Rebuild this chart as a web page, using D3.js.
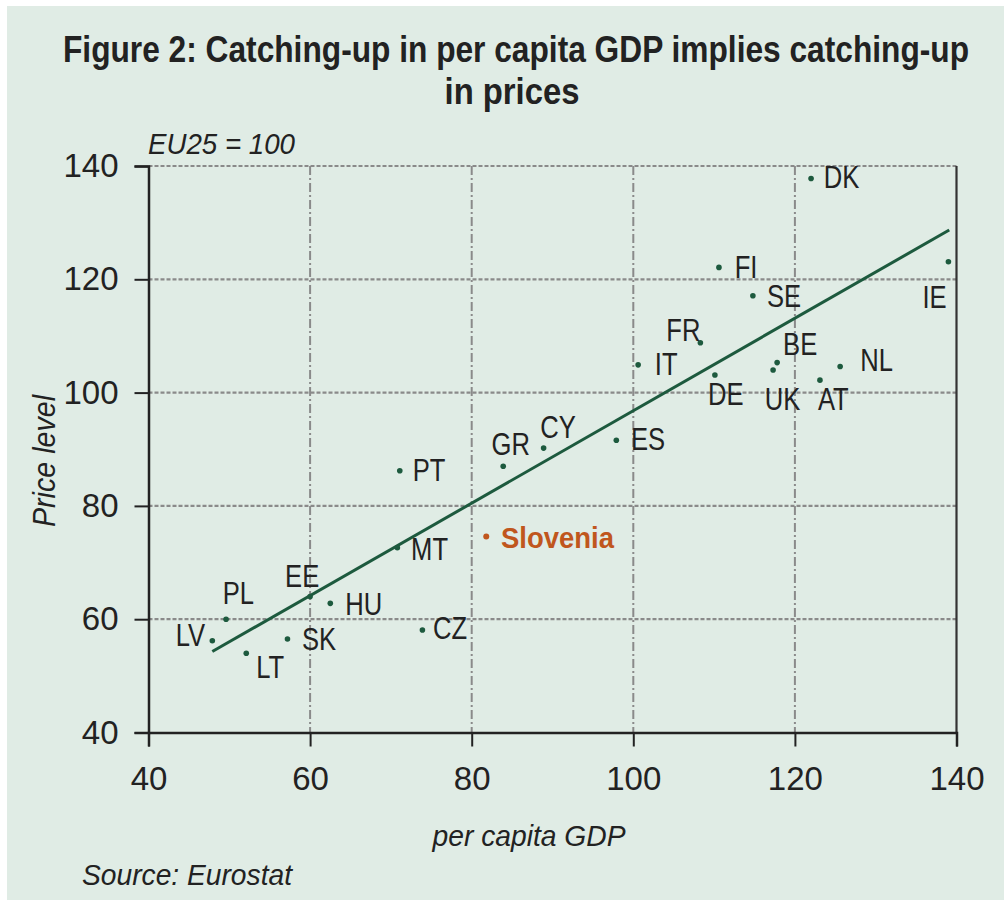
<!DOCTYPE html>
<html>
<head>
<meta charset="utf-8">
<script src="https://cdn.jsdelivr.net/npm/d3@7"></script>
<style>
  html, body { margin: 0; padding: 0; background: #ffffff; }
  svg { display: block; }
  text { font-family: "Liberation Sans", Arial, sans-serif; }
</style>
</head>
<body>
<svg id="chart" width="1004" height="905"></svg>
<script>
// ---- data ----
const countries = ["DK","FI","SE","IE","FR","IT","BE","UK","NL","AT","DE","ES","CY","GR","PT","MT","EE","HU","PL","LV","LT","SK","CZ"];
const gdpPerCapita = [122.0,110.6,114.8,139.0,108.3,100.6,117.8,117.3,125.6,123.1,110.1,97.9,88.9,83.9,71.1,70.8,60.0,62.5,49.6,47.9,52.1,57.2,73.9];
const priceLevel   = [137.8,122.1,117.1,123.1,108.8,104.9,105.3,104.0,104.6,102.2,103.1,91.6,90.2,87.0,86.2,72.6,64.0,62.8,60.0,56.2,54.0,56.5,58.1];
const highlightName = ["Slovenia"];
const highlightGdp = [81.8];
const highlightPrice = [74.6];
const trendGdp = [47.9, 139.1];
const trendPrice = [54.3, 128.7];
const xTicks = [40, 60, 80, 100, 120, 140];
const yTicks = [40, 60, 80, 100, 120, 140];
const titleLines = ["Figure 2: Catching-up in per capita GDP implies catching-up", "in prices"];
const unitNote = "EU25 = 100";
const xTitle = "per capita GDP";
const yTitle = "Price level";
const sourceNote = "Source: Eurostat";

// label offsets from each dot (layout only)
const labelDx = [12.6,15.7,14,-26,-34,16.7,6,-8.3,20,-2,-7,14.7,-3.3,-11.6,13,13.7,-25,15,-3.3,-36.7,10,14.4,10.6];
const labelDy = [10,10.7,11.5,46.3,-2,10,-7.7,40,4.3,30,30,10,-10.3,-11,10,12,-9.4,11.7,-15.3,5.3,25,10.7,9.3];

// ---- layout ----
const svg = d3.select("#chart");
const bg = "#e0ece5";
svg.append("rect").attr("x", 7).attr("y", 6).attr("width", 997).attr("height", 894).attr("fill", bg);

const x = d3.scaleLinear().domain([40, 140]).range([148.5, 956.5]);
const y = d3.scaleLinear().domain([40, 140]).range([732.5, 166]);

const gridColor = "#8a8a8a";
// horizontal dotted gridlines
svg.append("g").selectAll("line").data(yTicks.filter(d => d > 40)).join("line")
  .attr("x1", x(40)).attr("x2", x(140))
  .attr("y1", d => y(d)).attr("y2", d => y(d))
  .attr("stroke", gridColor).attr("stroke-width", 2.2)
  .attr("stroke-dasharray", "4,2");
// vertical dash-dot gridlines
svg.append("g").selectAll("line").data(xTicks.filter(d => d > 40 && d < 140)).join("line")
  .attr("x1", d => x(d)).attr("x2", d => x(d))
  .attr("y1", y(140)).attr("y2", y(40))
  .attr("stroke", gridColor).attr("stroke-width", 2)
  .attr("stroke-dasharray", "9,3,2,3");

// right border
svg.append("line").attr("x1", x(140)).attr("x2", x(140)).attr("y1", y(140)).attr("y2", y(40))
  .attr("stroke", "#333").attr("stroke-width", 2.2);

// axes
const xAxis = d3.axisBottom(x).tickValues(xTicks).tickSize(14).tickPadding(20).tickFormat(d3.format("d"));
const gx = svg.append("g").attr("transform", `translate(0,${y(40)})`).call(xAxis);
gx.select(".domain").attr("stroke", "#222").attr("stroke-width", 2.5);
gx.selectAll(".tick line").attr("stroke", "#222").attr("stroke-width", 2);
gx.selectAll(".tick text").attr("font-size", 33).attr("fill", "#222")
  .attr("font-family", "'Liberation Sans', Arial, sans-serif");

const yAxis = d3.axisLeft(y).tickValues(yTicks).tickSize(14).tickPadding(16).tickFormat(d3.format("d"));
const gy = svg.append("g").attr("transform", `translate(${x(40)},0)`).call(yAxis);
gy.select(".domain").attr("stroke", "#222").attr("stroke-width", 2.5);
gy.selectAll(".tick line").attr("stroke", "#222").attr("stroke-width", 2);
gy.selectAll(".tick text").attr("font-size", 33).attr("fill", "#222")
  .attr("font-family", "'Liberation Sans', Arial, sans-serif");

// trend line
const line = d3.line().x(d => x(d[0])).y(d => y(d[1]));
svg.append("path").datum(d3.zip(trendGdp, trendPrice)).attr("d", line)
  .attr("fill", "none").attr("stroke", "#1d5a3e").attr("stroke-width", 3);

// points
const pts = countries.map((c, i) => ({c, gx: gdpPerCapita[i], py: priceLevel[i], dx: labelDx[i], dy: labelDy[i]}));
svg.append("g").selectAll("circle").data(pts).join("circle")
  .attr("cx", d => x(d.gx)).attr("cy", d => y(d.py)).attr("r", 2.8).attr("fill", "#1d5a3e");

svg.append("g").selectAll("text").data(pts).join("text")
  .attr("transform", d => `translate(${x(d.gx) + d.dx},${y(d.py) + d.dy}) scale(0.8,1)`)
  .attr("font-size", 32).attr("fill", "#222")
  .text(d => d.c);

// highlighted country
const hl = highlightName.map((n, i) => ({n, gx: highlightGdp[i], py: highlightPrice[i]}));
svg.append("g").selectAll("circle").data(hl).join("circle")
  .attr("cx", d => x(d.gx)).attr("cy", d => y(d.py)).attr("r", 3).attr("fill", "#c0561d");
svg.append("g").selectAll("text").data(hl).join("text")
  .attr("x", d => x(d.gx) + 14.7).attr("y", d => y(d.py) + 11.6)
  .attr("font-size", 30).attr("font-weight", "bold").attr("fill", "#c0561d")
  .attr("textLength", 113).attr("lengthAdjust", "spacingAndGlyphs")
  .text(d => d.n);

// titles (bold, slightly condensed look via vertical stretch)
svg.append("text").attr("transform", "translate(516,62) scale(1,1.2)").attr("text-anchor", "middle")
  .attr("font-size", 31).attr("font-weight", "bold").attr("fill", "#222")
  .attr("textLength", 906).attr("lengthAdjust", "spacingAndGlyphs")
  .text(titleLines[0]);
svg.append("text").attr("transform", "translate(512,104) scale(1,1.2)").attr("text-anchor", "middle")
  .attr("font-size", 31).attr("font-weight", "bold").attr("fill", "#222")
  .attr("textLength", 135).attr("lengthAdjust", "spacingAndGlyphs")
  .text(titleLines[1]);

svg.append("text").attr("x", 148).attr("y", 154)
  .attr("font-size", 30).attr("font-style", "italic").attr("fill", "#222")
  .attr("textLength", 147).attr("lengthAdjust", "spacingAndGlyphs")
  .text(unitNote);

svg.append("text").attr("x", 529).attr("y", 846).attr("text-anchor", "middle")
  .attr("font-size", 30).attr("font-style", "italic").attr("fill", "#222")
  .attr("textLength", 193).attr("lengthAdjust", "spacingAndGlyphs")
  .text(xTitle);

svg.append("text").attr("transform", "translate(55,461) rotate(-90)").attr("text-anchor", "middle")
  .attr("font-size", 31).attr("font-style", "italic").attr("fill", "#222")
  .attr("textLength", 132).attr("lengthAdjust", "spacingAndGlyphs")
  .text(yTitle);

svg.append("text").attr("x", 82).attr("y", 885)
  .attr("font-size", 30).attr("font-style", "italic").attr("fill", "#222")
  .attr("textLength", 210).attr("lengthAdjust", "spacingAndGlyphs")
  .text(sourceNote);
</script>
</body>
</html>
